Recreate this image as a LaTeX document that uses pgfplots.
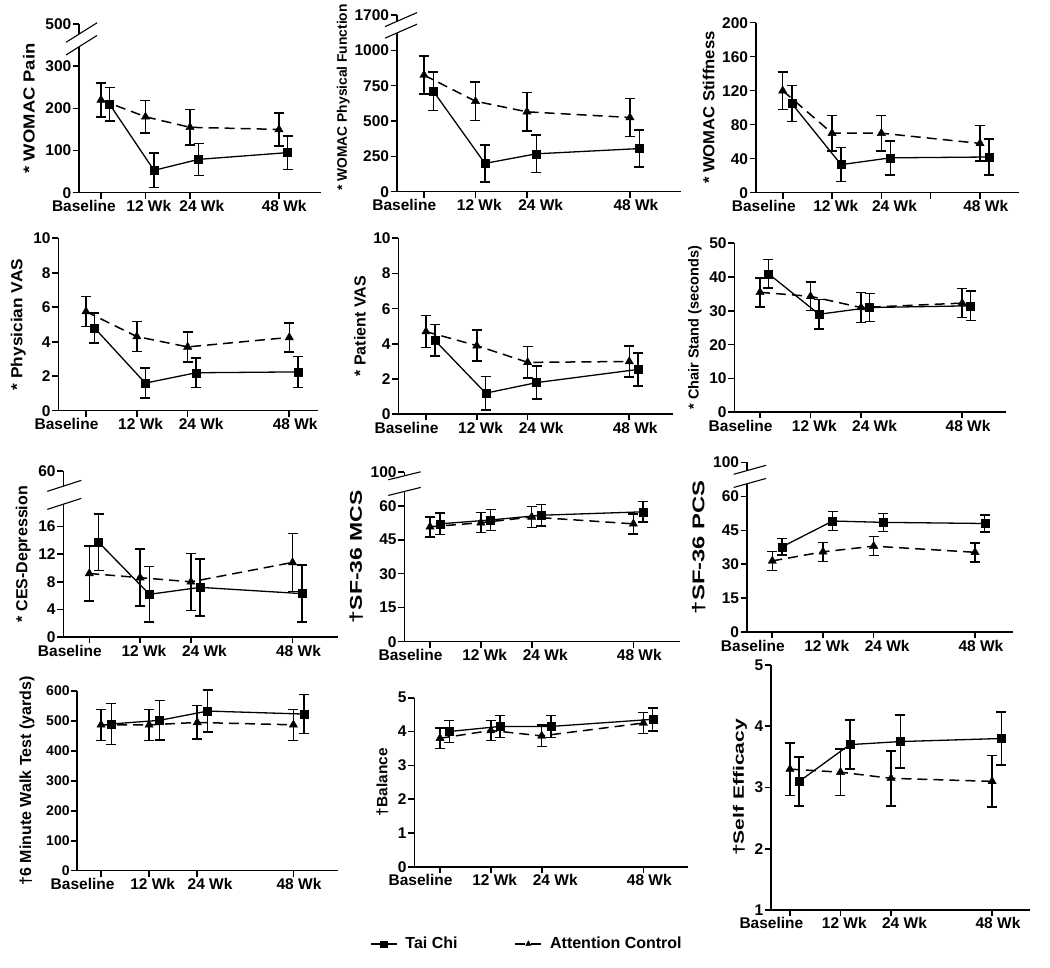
\documentclass[border=0pt]{standalone}
\usepackage{fontspec}
\setmainfont{Liberation Sans}
\usepackage{pgfplots}
\pgfplotsset{compat=1.18}
\usepackage{pgfplotstable}

% ---- data: x y err (AC at the ticks, TC offset to the right) ----
\pgfplotstableread{
x y e
0 220 40
12 180 39
24 155 42
48 150 39
}\painAC
\pgfplotstableread{
x y e
2.3 210 40
14.3 53 41
26.3 79 38
50.3 95 40
}\painTC
\pgfplotstableread{
x y e
0 825 135
12 640 135
24 565 135
48 525 135
}\pfAC
\pgfplotstableread{
x y e
2.2 710 135
14.2 200 130
26.2 268 133
50.2 305 130
}\pfTC
\pgfplotstableread{
x y e
0 120 22
12 70 21
24 70 21
48 58 21
}\stAC
\pgfplotstableread{
x y e
2.2 105 21
14.2 33 20
26.2 41 20
50.2 42 21
}\stTC
\pgfplotstableread{
x y e
0 5.75 0.87
12 4.3 0.87
24 3.7 0.87
48 4.25 0.85
}\phAC
\pgfplotstableread{
x y e
2.0 4.8 0.87
14.0 1.6 0.87
26.0 2.2 0.85
50.0 2.25 0.9
}\phTC
\pgfplotstableread{
x y e
0 4.7 0.9
12 3.9 0.88
24 2.95 0.9
48 3.0 0.88
}\paAC
\pgfplotstableread{
x y e
2.1 4.2 0.9
14.1 1.2 0.95
26.1 1.8 0.93
50.1 2.55 0.93
}\paTC
\pgfplotstableread{
x y e
0 35.5 4.3
12 34.3 4.2
24 31 4.4
48 32.3 4.3
}\chAC
\pgfplotstableread{
x y e
2.0 41 4.2
14.0 29 4.3
26.0 31 4.2
50.0 31.5 4.4
}\chTC
\pgfplotstableread{
x y e
0 9.2 4
12 8.6 4.1
24 8 4.1
48 10.8 4.2
}\ceAC
\pgfplotstableread{
x y e
2.2 13.7 4.1
14.2 6.2 4
26.2 7.2 4.1
50.2 6.3 4.1
}\ceTC
\pgfplotstableread{
x y e
0 50.7 4.4
12 52.5 4.4
24 55 4.7
48 52 4.4
}\mcAC
\pgfplotstableread{
x y e
2.3 52 4.8
14.3 53.7 4.6
26.3 55.8 4.8
50.3 57.3 4.6
}\mcTC
\pgfplotstableread{
x y e
0 31.5 4.2
12 35.5 4.2
24 38 4.2
48 35.3 4.2
}\pcAC
\pgfplotstableread{
x y e
2.3 37.7 3.7
14.3 49.1 4.2
26.3 48.5 4
50.3 48 3.8
}\pcTC
\pgfplotstableread{
x y e
0 487 52
12 487 52
24 495 56
48 487 52
}\wkAC
\pgfplotstableread{
x y e
2.6 490 68
14.6 502 66
26.6 533 70
50.6 523 65
}\wkTC
\pgfplotstableread{
x y e
0 3.8 0.3
12 4.03 0.3
24 3.87 0.32
48 4.25 0.31
}\baAC
\pgfplotstableread{
x y e
2.2 4.0 0.33
14.2 4.15 0.33
26.2 4.15 0.33
50.2 4.36 0.34
}\baTC
\pgfplotstableread{
x y e
0 3.3 0.43
12 3.25 0.38
24 3.15 0.45
48 3.1 0.42
}\seAC
\pgfplotstableread{
x y e
2.2 3.1 0.4
14.2 3.7 0.4
26.2 3.75 0.43
50.2 3.8 0.43
}\seTC

\pgfplotsset{
  panel/.style={
    scale only axis, clip=false,
    axis x line=bottom, axis y line=left,
    axis line style={line width=1.6pt,-},
    tick align=outside, major tick length=6pt,
    every tick/.style={black, line width=1.6pt},
    enlargelimits=false,
    xtick={0,12,24,48}, xticklabels={,,,,},
    extra x ticks={-4.6,12.9,27.2,49.4},
    extra x tick labels={Baseline,12 Wk,24 Wk,48 Wk},
    extra x tick style={tick style={draw=none}},
    /pgf/number format/assume math mode=true,
    /pgf/number format/1000 sep={},
    xticklabel style={font=\bfseries\fontsize{15.5}{16}\selectfont, inner sep=1.5pt},
    yticklabel style={font=\bfseries\fontsize{15.5}{16}\selectfont, inner sep=1.5pt},
    ylabel style={font=\bfseries, inner sep=2pt},
    ylabel shift=4pt,
    legend image code/.code={\draw[mark repeat=2,mark phase=2,##1] plot coordinates {(0pt,0pt) (13pt,0pt) (26pt,0pt)};},
  },
  tc/.style={black, line width=1.3pt, mark=square*, mark size=4pt,
    mark options={solid, line width=0.4pt},
    error bars/y dir=both, error bars/y explicit,
    error bars/error bar style={solid, line width=1.5pt},
    error bars/error mark options={rotate=90, solid, black, mark size=5pt, line width=1.5pt}},
  ac/.style={black, line width=1.5pt, dash pattern=on 10pt off 6pt, mark=triangle*, mark size=4.8pt,
    mark options={solid, line width=0.4pt},
    error bars/y dir=both, error bars/y explicit,
    error bars/error bar style={solid, line width=1.5pt},
    error bars/error mark options={rotate=90, solid, black, mark size=5pt, line width=1.5pt}},
}
\newcommand\yl[3]{\fontsize{#1}{#1}\selectfont\scalebox{#2}[1]{#3}}

\begin{document}
\begin{tikzpicture}
\useasboundingbox (0,0) rectangle (1050pt,967pt);

% ---------- Row 1 ----------
\begin{axis}[panel, at={(79pt,774.3pt)}, anchor=south west, width=242pt, height=168.7pt,
  xmin=-5.93, xmax=59.33, ymin=0, ymax=400,
  ytick={0,100,200,300,400}, yticklabels={0,100,200,300,500},
  y axis line style={draw=none}, ylabel shift=7pt,
  ylabel={\yl{16}{1.15}{* WOMAC Pain}}]
  \draw[line width=1.6pt] (axis cs:-5.93,0) -- (axis cs:-5.93,346);
  \draw[line width=1.6pt] (axis cs:-5.93,376) -- (axis cs:-5.93,400);
  \draw[line width=1.1pt] (axis cs:-5.93,346) ++(-13pt,-8.2pt) -- ++(31pt,19.5pt);
  \draw[line width=1.1pt] (axis cs:-5.93,376) ++(-13pt,-8.2pt) -- ++(31pt,19.5pt);
  \addplot[ac] table[x=x,y=y,y error=e] {\painAC};
  \addplot[tc] table[x=x,y=y,y error=e] {\painTC};
\end{axis}

\begin{axis}[panel, at={(396.7pt,775.3pt)}, anchor=south west, width=284.3pt, height=176.7pt,
  xmin=-6.36, xmax=59.9, ymin=0, ymax=1250,
  ytick={0,250,500,750,1000,1250}, yticklabels={0,250,500,750,1000,1700},
  y axis line style={draw=none}, ylabel shift=1pt,
  ylabel style={yshift=0pt, xshift=6pt},
  ylabel={\yl{13.8}{1}{* WOMAC Physical Function}}]
  \draw[line width=1.6pt] (axis cs:-6.36,0) -- (axis cs:-6.36,1122);
  \draw[line width=1.6pt] (axis cs:-6.36,1204) -- (axis cs:-6.36,1250);
  \draw[line width=1.1pt] (axis cs:-6.36,1122) ++(-11.7pt,-5.1pt) -- ++(32pt,14pt);
  \draw[line width=1.1pt] (axis cs:-6.36,1204) ++(-11.7pt,-5.1pt) -- ++(32pt,14pt);
  \addplot[ac] table[x=x,y=y,y error=e] {\pfAC};
  \addplot[tc] table[x=x,y=y,y error=e] {\pfTC};
\end{axis}

\begin{axis}[panel, at={(755.7pt,774.3pt)}, anchor=south west, width=263.6pt, height=170pt,
  xmin=-6.57, xmax=57.56, ymin=0, ymax=200, xtick={0,12,24,36,48},
  ytick={0,40,...,200},
  ylabel={\yl{16}{1.04}{* WOMAC Stiffness}}]
  \addplot[ac] table[x=x,y=y,y error=e] {\stAC};
  \addplot[tc] table[x=x,y=y,y error=e] {\stTC};
\end{axis}

% ---------- Row 2 ----------
\begin{axis}[panel, at={(58.3pt,556.3pt)}, anchor=south west, width=260pt, height=172.4pt,
  xmin=-6.54, xmax=54.85, ymin=0, ymax=10, ytick={0,2,...,10},
  ylabel={\yl{16}{1.08}{* Physician VAS}}]
  \addplot[ac] table[x=x,y=y,y error=e] {\phAC};
  \addplot[tc] table[x=x,y=y,y error=e] {\phTC};
\end{axis}

\begin{axis}[panel, at={(398.3pt,552.7pt)}, anchor=south west, width=275pt, height=176pt,
  xmin=-6.54, xmax=58.4, ymin=0, ymax=10, ytick={0,2,...,10},
  ylabel={\yl{16}{1}{* Patient VAS}}]
  \addplot[ac] table[x=x,y=y,y error=e] {\paAC};
  \addplot[tc] table[x=x,y=y,y error=e] {\paTC};
\end{axis}

\begin{axis}[panel, at={(734.3pt,554.7pt)}, anchor=south west, width=271.7pt, height=169pt,
  xmin=-6.1, xmax=58.4, ymin=0, ymax=50, ytick={0,10,...,50},
  ylabel={\yl{14.5}{1}{* Chair Stand (seconds)}}]
  \addplot[ac] table[x=x,y=y,y error=e] {\chAC};
  \addplot[tc] table[x=x,y=y,y error=e] {\chTC};
\end{axis}

% ---------- Row 3 ----------
\begin{axis}[panel, at={(63.3pt,329.7pt)}, anchor=south west, width=275pt, height=166.4pt,
  xmin=-6.14, xmax=58.8, ymin=0, ymax=24,
  ytick={0,4,8,12,16,24}, yticklabels={0,4,8,12,16,60},
  y axis line style={draw=none},
  ylabel={\yl{16}{1}{* CES-Depression}}]
  \draw[line width=1.6pt] (axis cs:-6.14,0) -- (axis cs:-6.14,19.2);
  \draw[line width=1.6pt] (axis cs:-6.14,21.8) -- (axis cs:-6.14,24);
  \draw[line width=1.1pt] (axis cs:-6.14,19.2) ++(-16pt,-5.2pt) -- ++(34pt,11pt);
  \draw[line width=1.1pt] (axis cs:-6.14,21.8) ++(-16pt,-5.2pt) -- ++(34pt,11pt);
  \addplot[ac] table[x=x,y=y,y error=e] {\ceAC};
  \addplot[tc] table[x=x,y=y,y error=e] {\ceTC};
\end{axis}

\begin{axis}[panel, at={(404.3pt,325.3pt)}, anchor=south west, width=275.7pt, height=170pt,
  xmin=-6.07, xmax=59.0, ymin=0, ymax=75,
  ytick={0,15,30,45,60,75}, yticklabels={0,15,30,45,60,100},
  y axis line style={draw=none},
  ylabel={\yl{17}{1.35}{†SF-36 MCS}}]
  \draw[line width=1.6pt] (axis cs:-6.07,0) -- (axis cs:-6.07,66.3);
  \draw[line width=1.6pt] (axis cs:-6.07,73.2) -- (axis cs:-6.07,75);
  \draw[line width=1.1pt] (axis cs:-6.07,66.3) ++(-16pt,-4pt) -- ++(32.4pt,8pt);
  \draw[line width=1.1pt] (axis cs:-6.07,73.2) ++(-16pt,-4pt) -- ++(32.4pt,8pt);
  \addplot[ac] table[x=x,y=y,y error=e] {\mcAC};
  \addplot[tc] table[x=x,y=y,y error=e] {\mcTC};
\end{axis}

\begin{axis}[panel, at={(746.7pt,334.7pt)}, anchor=south west, width=266.6pt, height=170pt,
  xmin=-6.06, xmax=57.07, ymin=0, ymax=75,
  ytick={0,15,30,45,60,75}, yticklabels={0,15,30,45,60,100},
  y axis line style={draw=none},
  ylabel={\yl{17}{1.4}{†SF-36 PCS}}]
  \draw[line width=1.6pt] (axis cs:-6.06,0) -- (axis cs:-6.06,65.5);
  \draw[line width=1.6pt] (axis cs:-6.06,71.3) -- (axis cs:-6.06,75);
  \draw[line width=1.1pt] (axis cs:-6.06,65.5) ++(-13pt,-3.6pt) -- ++(32.4pt,9pt);
  \draw[line width=1.1pt] (axis cs:-6.06,71.3) ++(-13pt,-3.6pt) -- ++(32.4pt,9pt);
  \addplot[ac] table[x=x,y=y,y error=e] {\pcAC};
  \addplot[tc] table[x=x,y=y,y error=e] {\pcTC};
\end{axis}

% ---------- Row 4 ----------
\begin{axis}[panel, at={(77.3pt,96.3pt)}, anchor=south west, width=261pt, height=179.7pt,
  xmin=-5.92, xmax=59.2, ymin=0, ymax=600, ytick={0,100,...,600},
  yticklabel style={font=\bfseries\fontsize{14}{15}\selectfont},
  ylabel shift=8pt,
  ylabel={\yl{16}{1}{†6 Minute Walk Test (yards)}}]
  \addplot[ac] table[x=x,y=y,y error=e] {\wkAC};
  \addplot[tc] table[x=x,y=y,y error=e] {\wkTC};
\end{axis}

\begin{axis}[panel, at={(414.3pt,100.3pt)}, anchor=south west, width=274pt, height=169pt,
  xmin=-6.07, xmax=58.6, ymin=0, ymax=5, ytick={0,...,5},
  ylabel shift=6pt,
  ylabel={\yl{15}{1.03}{†Balance}},
  legend image post style={mark size=3.2pt},
  legend style={at={(0.411,-0.457)}, anchor=center, draw=none, fill=none,
    legend columns=2, font=\bfseries\fontsize{16}{16}\selectfont,
    /tikz/every even column/.append style={column sep=55pt},
    /tikz/every odd column/.append style={column sep=6pt}}]
  \addplot[tc] table[x=x,y=y,y error=e] {\baTC};
  \addlegendentry{Tai Chi}
  \addplot[ac] table[x=x,y=y,y error=e] {\baAC};
  \addlegendentry{Attention Control}
\end{axis}

\begin{axis}[panel, at={(771pt,57pt)}, anchor=south west, width=259pt, height=245pt,
  xmin=-4.5, xmax=57, ymin=1, ymax=5, ytick={1,...,5},
  extra x ticks={-4.4,12.9,27.2,49.4},
  ylabel={\yl{15}{1.4}{†Self Efficacy}}]
  \addplot[ac] table[x=x,y=y,y error=e] {\seAC};
  \addplot[tc] table[x=x,y=y,y error=e] {\seTC};
\end{axis}

\end{tikzpicture}
\end{document}
